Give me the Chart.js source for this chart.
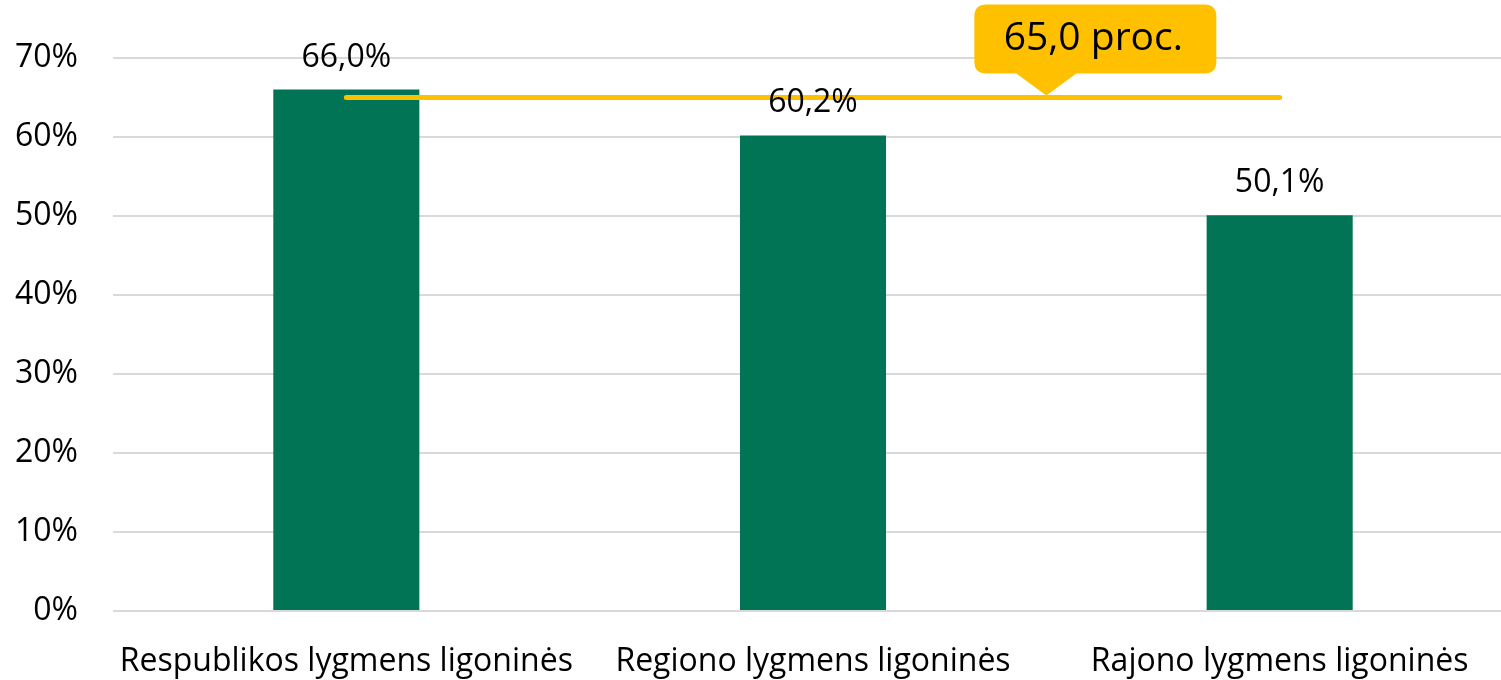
<!DOCTYPE html>
<html>
<head>
<meta charset="utf-8">
<script src="https://cdn.jsdelivr.net/npm/chart.js@4.4.1/dist/chart.umd.min.js"></script>
<style>
  html, body { margin: 0; padding: 0; background: #fff; overflow: hidden; }
  #wrap { width: 1513px; height: 680px; }
</style>
</head>
<body>
<div id="wrap"><canvas id="chart"></canvas></div>
<script>
const categories = ['Respublikos lygmens ligoninės', 'Regiono lygmens ligoninės', 'Rajono lygmens ligoninės'];
const shares = [66.0, 60.2, 50.1];
const target = [65.0, 65.0, 65.0];
const targetLabel = '65,0 proc.';
const yTicks = [0, 10, 20, 30, 40, 50, 60, 70];

const FONT = '"Open Sans", Lato, sans-serif';

function fmt(v) {
  return v.toFixed(1).replace('.', ',') + '%';
}

// value labels above bars
const barLabels = {
  id: 'barLabels',
  afterDatasetsDraw(chart) {
    const ctx = chart.ctx;
    const meta = chart.getDatasetMeta(1);
    ctx.save();
    ctx.font = '32px ' + FONT;
    ctx.fillStyle = '#000';
    ctx.textAlign = 'center';
    ctx.textBaseline = 'alphabetic';
    meta.data.forEach((bar, i) => {
      ctx.fillText(fmt(shares[i]), bar.x, bar.y - 23);
    });
    ctx.restore();
  }
};

// callout bubble pointing at the target line
const callout = {
  id: 'callout',
  afterDraw(chart) {
    const ctx = chart.ctx;
    const x = chart.scales.x.getPixelForValue(1.5);
    const y = chart.scales.y.getPixelForValue(target[0]) - 2;
    const left = x - 72, right = x + 170, bottom = y - 22, top = bottom - 69, r = 12;
    ctx.save();
    ctx.fillStyle = '#FFC000';
    ctx.beginPath();
    ctx.moveTo(left + r, top);
    ctx.lineTo(right - r, top);
    ctx.quadraticCurveTo(right, top, right, top + r);
    ctx.lineTo(right, bottom - r);
    ctx.quadraticCurveTo(right, bottom, right - r, bottom);
    ctx.lineTo(x + 30, bottom);
    ctx.lineTo(x, y);
    ctx.lineTo(x - 30, bottom);
    ctx.lineTo(left + r, bottom);
    ctx.quadraticCurveTo(left, bottom, left, bottom - r);
    ctx.lineTo(left, top + r);
    ctx.quadraticCurveTo(left, top, left + r, top);
    ctx.closePath();
    ctx.fill();
    ctx.fillStyle = '#000';
    ctx.font = '39px ' + FONT;
    ctx.textAlign = 'center';
    ctx.textBaseline = 'middle';
    ctx.fillText(targetLabel, (left + right) / 2 - 2, (top + bottom) / 2);
    ctx.restore();
  }
};

new Chart(document.getElementById('chart'), {
  type: 'bar',
  data: {
    labels: categories,
    datasets: [
      {
        type: 'line',
        data: target,
        borderColor: '#FFC000',
        borderWidth: 5,
        borderCapStyle: 'round',
        pointRadius: 0,
        fill: false,
        order: 0
      },
      {
        data: shares,
        backgroundColor: '#007455',
        barPercentage: 0.313,
        categoryPercentage: 1,
        order: 1
      }
    ]
  },
  options: {
    responsive: true,
    maintainAspectRatio: false,
    animation: false,
    layout: { padding: { top: 58, left: 14, right: 0, bottom: 0 } },
    plugins: {
      legend: { display: false },
      tooltip: { enabled: false }
    },
    scales: {
      x: {
        grid: { display: false },
        border: { display: false },
        afterFit(axis) {
          axis.height = 69;
          axis.paddingLeft = 0;
          axis.paddingRight = 0;
        },
        ticks: {
          color: '#000',
          font: { family: FONT, size: 32 },
          padding: 24,
          maxRotation: 0,
          minRotation: 0,
          autoSkip: false
        }
      },
      y: {
        min: 0,
        max: 70,
        afterBuildTicks(axis) { axis.ticks = yTicks.map(v => ({ value: v })); },
        afterFit(axis) {
          axis.width = 99;
          axis.paddingTop = 0;
          axis.paddingBottom = 0;
        },
        grid: { color: '#d9d9d9', lineWidth: 2, drawTicks: false },
        border: { display: false },
        ticks: {
          color: '#000',
          font: { family: FONT, size: 32 },
          padding: 35,
          callback: v => v + '%'
        }
      }
    }
  },
  plugins: [barLabels, callout]
});
</script>
</body>
</html>
